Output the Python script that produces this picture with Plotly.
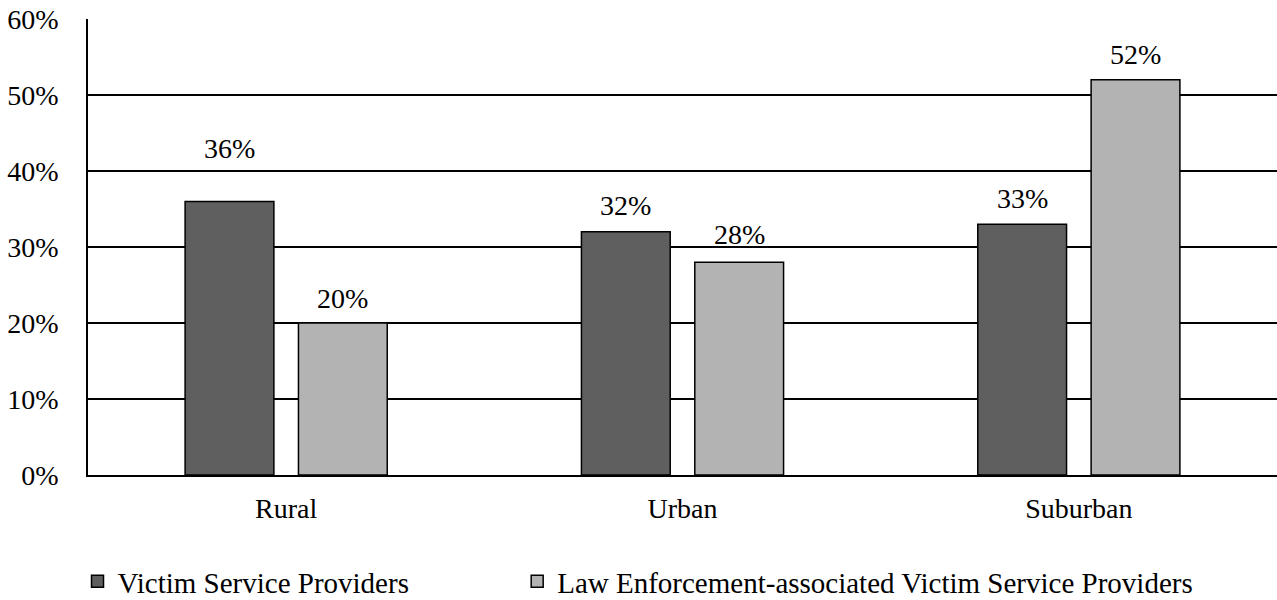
import plotly.graph_objects as go

categories = ["Rural", "Urban", "Suburban"]
vsp_values = [36, 32, 33]
le_values = [20, 28, 52]
series_names = ["Victim Service Providers",
                "Law Enforcement-associated Victim Service Providers"]
y_ticks = [0, 10, 20, 30, 40, 50, 60]
y_tick_labels = [f"{v}%" for v in y_ticks]

FONT = "Times New Roman, Liberation Serif, serif"
DARK = "#5f5f5f"
LIGHT = "#b3b3b3"

BAR_W = 0.224
OFFSETS = [-0.255, 0.031]
# extra lift per label (px) above its bar
LABEL_LIFT = [[35, 9, 8], [7, 10, 8]]

fig = go.Figure()
xs = list(range(len(categories)))
for vals, name, color, off, lg in [(vsp_values, series_names[0], DARK, OFFSETS[0], "legend"),
                                   (le_values, series_names[1], LIGHT, OFFSETS[1], "legend2")]:
    fig.add_trace(go.Bar(
        x=xs, y=vals, name=name, width=BAR_W, offset=off, legend=lg,
        marker=dict(color=color, line=dict(color="black", width=1.5)),
    ))

for si, (vals, off) in enumerate([(vsp_values, OFFSETS[0]), (le_values, OFFSETS[1])]):
    for i, v in enumerate(vals):
        fig.add_annotation(
            x=i + off + BAR_W / 2, y=v, text=f"{v}%", showarrow=False,
            xanchor="center", yanchor="bottom", yshift=LABEL_LIFT[si][i],
            font=dict(family=FONT, size=28, color="black"),
        )

legend_style = dict(orientation="h", xref="container", yref="container",
                    y=0.031, xanchor="left", yanchor="middle",
                    font=dict(family=FONT, size=29, color="black"),
                    bgcolor="rgba(0,0,0,0)")

fig.update_layout(
    width=1277, height=600,
    margin=dict(l=88, r=0, t=19, b=125),
    paper_bgcolor="white", plot_bgcolor="white",
    barmode="overlay",
    font=dict(family=FONT, size=28, color="black"),
    showlegend=True,
    legend=dict(x=0.0607, **legend_style),
    legend2=dict(x=0.405, **legend_style),
    xaxis=dict(range=[-0.5, 2.5], tickvals=xs, ticktext=categories,
               showgrid=False, zeroline=False, showline=True,
               linecolor="black", linewidth=1.5, ticks="",
               ticklabelstandoff=8, fixedrange=True),
    yaxis=dict(range=[0, 60], tickvals=y_ticks, ticktext=y_tick_labels,
               showgrid=True, gridcolor="black", gridwidth=1.5,
               zeroline=False, showline=True, linecolor="black", linewidth=1.5,
               ticks="", ticklabelstandoff=22, fixedrange=True),
)

fig.write_html("out.html")
